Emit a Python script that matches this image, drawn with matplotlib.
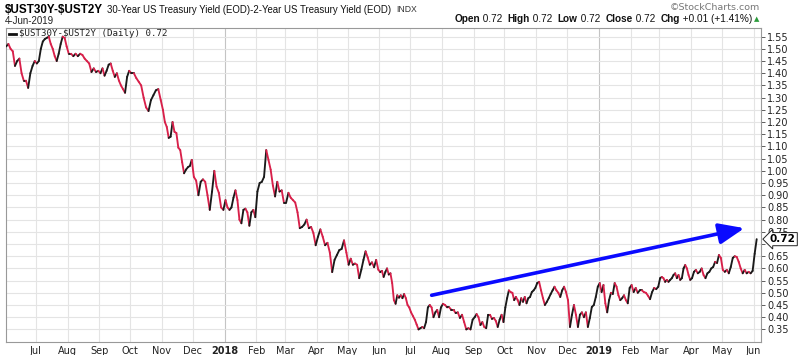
import numpy as np
import pandas as pd
import matplotlib
matplotlib.use('Agg')
import matplotlib.pyplot as plt
import matplotlib.dates as mdates
import matplotlib.transforms as mtransforms
from matplotlib.collections import LineCollection
from matplotlib.lines import Line2D

# $UST30Y-$UST2Y spread (about every other session)
jun17 = [1.51, 1.52, 1.50, 1.49, 1.43, 1.45, 1.46, 1.40, 1.37, 1.37, 1.34, 1.40, 1.43, 1.45]
jul17 = [1.44, 1.45, 1.50, 1.53, 1.54, 1.545, 1.55, 1.52, 1.50, 1.47, 1.45, 1.48, 1.52, 1.55, 1.545, 1.51]
aug17 = [1.48, 1.48, 1.47, 1.48, 1.47, 1.48, 1.475, 1.46, 1.45, 1.44, 1.405, 1.42, 1.405, 1.41]
sep17 = [1.40, 1.42, 1.39, 1.41, 1.435, 1.44, 1.41, 1.385, 1.40, 1.37, 1.35, 1.335, 1.32, 1.385, 1.41]
oct17 = [1.40, 1.40, 1.38, 1.365, 1.35, 1.30, 1.26, 1.245, 1.29, 1.31, 1.33, 1.335, 1.29]
nov17 = [1.25, 1.20, 1.18, 1.135, 1.14, 1.20, 1.16, 1.155, 1.095, 1.085, 1.035, 0.99, 1.005, 1.015, 1.02, 1.045]
dec17 = [0.975, 0.96, 0.90, 0.955, 0.965, 0.955, 0.90, 0.84, 0.915, 1.00, 0.935, 0.91, 0.85, 0.84]
jan18 = [0.88, 0.85, 0.84, 0.85, 0.89, 0.92, 0.88, 0.80, 0.785, 0.84, 0.845, 0.83, 0.775, 0.83, 0.84, 0.81]
feb18 = [0.915, 0.95, 0.955, 0.975, 1.085, 1.045, 1.005, 0.94, 0.895, 0.955, 0.915, 0.92, 0.87]
mar18 = [0.87, 0.91, 0.89, 0.88, 0.87, 0.83, 0.765, 0.77, 0.78, 0.80, 0.765, 0.77, 0.745, 0.695]
apr18 = [0.73, 0.76, 0.73, 0.695, 0.705, 0.665, 0.585, 0.635, 0.655, 0.675, 0.68, 0.715, 0.665]
may18 = [0.615, 0.64, 0.615, 0.62, 0.615, 0.56, 0.595, 0.635, 0.67, 0.645, 0.615, 0.625, 0.605, 0.635, 0.595]
jun18 = [0.585, 0.59, 0.565, 0.585, 0.60, 0.575, 0.58, 0.54, 0.47, 0.455, 0.49, 0.48, 0.49, 0.478, 0.495, 0.478, 0.45, 0.44]
jul18 = [0.42, 0.405, 0.39, 0.37, 0.35, 0.355, 0.36, 0.355, 0.38, 0.44, 0.45, 0.44, 0.40, 0.42, 0.43, 0.40, 0.44]
aug18 = [0.455, 0.45, 0.44, 0.44, 0.43, 0.43, 0.417, 0.42, 0.397, 0.41, 0.38, 0.35, 0.355, 0.35, 0.39]
sep18 = [0.40, 0.413, 0.40, 0.368, 0.38, 0.36, 0.355, 0.41, 0.41, 0.393, 0.397, 0.385, 0.36, 0.39, 0.41, 0.38]
oct18 = [0.44, 0.478, 0.51, 0.503, 0.50, 0.47, 0.483, 0.47, 0.45, 0.478, 0.463, 0.483, 0.457, 0.478, 0.483, 0.503, 0.51, 0.52]
nov18 = [0.54, 0.545, 0.51, 0.478, 0.45, 0.463, 0.478, 0.495, 0.51, 0.525, 0.51, 0.50, 0.483, 0.51, 0.525, 0.503]
dec18 = [0.47, 0.36, 0.41, 0.45, 0.41, 0.36, 0.41, 0.42, 0.40, 0.42, 0.36, 0.397, 0.442, 0.45, 0.483, 0.525]
jan19 = [0.54, 0.503, 0.532, 0.457, 0.42, 0.47, 0.50, 0.495, 0.54, 0.525, 0.49, 0.47, 0.478, 0.49, 0.47, 0.457, 0.52]
feb19 = [0.532, 0.503, 0.52, 0.50, 0.51, 0.51, 0.503, 0.50, 0.488, 0.474, 0.503, 0.52, 0.515, 0.525]
mar19 = [0.56, 0.565, 0.56, 0.545, 0.553, 0.545, 0.553, 0.56, 0.573, 0.58, 0.56, 0.573, 0.553, 0.56, 0.60, 0.614, 0.60, 0.573, 0.553]
apr19 = [0.56, 0.586, 0.594, 0.58, 0.586, 0.60, 0.573, 0.56, 0.58, 0.586, 0.60, 0.606, 0.627, 0.622, 0.655, 0.643]
may19 = [0.594, 0.586, 0.594, 0.58, 0.606, 0.643, 0.65, 0.647, 0.627, 0.60, 0.58, 0.594, 0.58, 0.586, 0.58, 0.59]
jun19 = [0.66, 0.72]

monthly = [jun17, jul17, aug17, sep17, oct17, nov17, dec17,
           jan18, feb18, mar18, apr18, may18, jun18, jul18, aug18, sep18, oct18, nov18, dec18,
           jan19, feb19, mar19, apr19, may19, jun19]
months = pd.date_range('2017-06-01', '2019-06-01', freq='MS')
last_day = pd.Timestamp('2019-06-05')

last_close = 0.72
trend_start = ('2018-07-22', 0.49)
trend_end = ('2019-05-23', 0.765)

# spread each month's readings across that month
xs, ys = [], []
for m, vals in zip(months, monthly):
    a = mdates.date2num(m)
    b = mdates.date2num(min(m + pd.offsets.MonthBegin(1), last_day))
    step = (b - a) / len(vals)
    xs.extend(a + step * (np.arange(len(vals)) + 0.5))
    ys.extend(vals)
xs = np.array(xs)
ys = np.array(ys)

fig = plt.figure(figsize=(8, 3.55), dpi=100)
ax = fig.add_axes([0.007, 0.037, 0.944, 0.8845])

# up days black, down days red
pts = np.column_stack([xs, ys]).reshape(-1, 1, 2)
segs = np.concatenate([pts[:-1], pts[1:]], axis=1)
cols = ['#1a1a1a' if d >= 0 else '#d8204a' for d in np.diff(ys)]
lc = LineCollection(segs, colors=cols, linewidths=1.35, capstyle='round', joinstyle='round', zorder=3)
ax.add_collection(lc)

ax.set_xlim(mdates.date2num(pd.Timestamp('2017-06-01 12:00')), mdates.date2num(pd.Timestamp('2019-06-08')))
ax.set_ylim(0.299, 1.586)

yt = np.arange(0.35, 1.551, 0.05)
ax.set_yticks(yt)
# the last-value tag hides the 0.70 label
ax.set_yticklabels(['' if abs(v - 0.70) < 1e-6 else '%.2f' % v for v in yt])
ax.yaxis.tick_right()
ax.grid(axis='y', color='#e4e4e4', lw=0.8, zorder=0)
ax.tick_params(axis='y', length=3, width=0.6, pad=1.5, labelsize=7, colors='#444', labelcolor='#222')

ticks = months[1:]
ax.set_xticks(mdates.date2num(ticks))
ax.set_xticklabels([str(t.year) if t.month == 1 else t.strftime('%b') for t in ticks])
for lab in ax.get_xticklabels():
    if lab.get_text().startswith('20'):
        lab.set_fontweight('bold')
        lab.set_fontsize(7.5)
ax.tick_params(axis='x', length=0, pad=3, labelsize=7, labelcolor='#222')
for t in ticks:
    ax.axvline(mdates.date2num(t), color='#c4c4c4' if t.month == 1 else '#e4e4e4', lw=0.8, zorder=0)

for s in ax.spines.values():
    s.set_color('#999999')
    s.set_linewidth(0.8)

# trend arrow
ax.annotate('', xy=(mdates.date2num(pd.Timestamp(trend_end[0])), trend_end[1]),
            xytext=(mdates.date2num(pd.Timestamp(trend_start[0])), trend_start[1]),
            arrowprops=dict(arrowstyle='-|>,head_length=1.1,head_width=0.45', color='#0a0aff',
                            lw=2.6, mutation_scale=14, shrinkA=0, shrinkB=0), zorder=4)

# last value tag
trans = mtransforms.blended_transform_factory(ax.transAxes, ax.transData)
ax.text(1.012, last_close, '%.2f' % last_close, transform=trans, fontsize=7.5, fontweight='bold',
        va='center', ha='left', zorder=6, clip_on=False,
        bbox=dict(boxstyle='larrow,pad=0.15', fc='white', ec='#222', lw=0.7))

# legend line inside plot
fig.add_artist(Line2D([9 / 800, 16 / 800], [1 - 33.5 / 355] * 2, color='#111', lw=2))
fig.text(19 / 800, 1 - 33.5 / 355, '\\$UST30Y-\\$UST2Y (Daily) 0.72', fontsize=6.6, family='DejaVu Sans Mono',
         va='center', color='#222')

# header
fig.canvas.draw()
renderer = fig.canvas.get_renderer()
t1 = fig.text(5 / 800, 1 - 10 / 355, '\\$UST30Y-\\$UST2Y', fontsize=8.4, fontweight='bold',
              family='Liberation Sans', va='center')
x1 = 5 + t1.get_window_extent(renderer).width + 4
t2 = fig.text(x1 / 800, 1 - 10 / 355, '30-Year US Treasury Yield (EOD)-2-Year US Treasury Yield (EOD)',
              fontsize=6.9, family='Liberation Sans', va='center', color='#111')
x2 = x1 + t2.get_window_extent(renderer).width + 5
fig.text(x2 / 800, 1 - 10 / 355, 'INDX', fontsize=6.2, family='Liberation Sans', va='center', color='#333')
fig.text(5 / 800, 1 - 20.5 / 355, '4-Jun-2019', fontsize=7, family='Liberation Sans', va='center', color='#222')
fig.text(760 / 800, 1 - 7.5 / 355, '\u00a9StockCharts.com', fontsize=6.8, family='DejaVu Sans', va='center',
         ha='right', color='#777')

pieces = [('Open', True), (' 0.72  ', False), ('High', True), (' 0.72  ', False), ('Low', True),
          (' 0.72  ', False), ('Close', True), (' 0.72  ', False), ('Chg', True), (' +0.01 (+1.41%)', False)]
texts = [fig.text(0, 1 - 19.5 / 355, txt, fontsize=7.2, family='Liberation Sans', va='center',
                  fontweight='bold' if bold else 'normal', color='#111') for txt, bold in pieces]
widths = [t.get_window_extent(renderer).width for t in texts]
x0 = 752 - sum(widths)
for t, w in zip(texts, widths):
    t.set_x(x0 / 800)
    x0 += w
fig.text(754 / 800, 1 - 19.5 / 355, '\u25b2', fontsize=5, color='#2a9a3a', va='center')

fig.savefig('out.png', dpi=100)
